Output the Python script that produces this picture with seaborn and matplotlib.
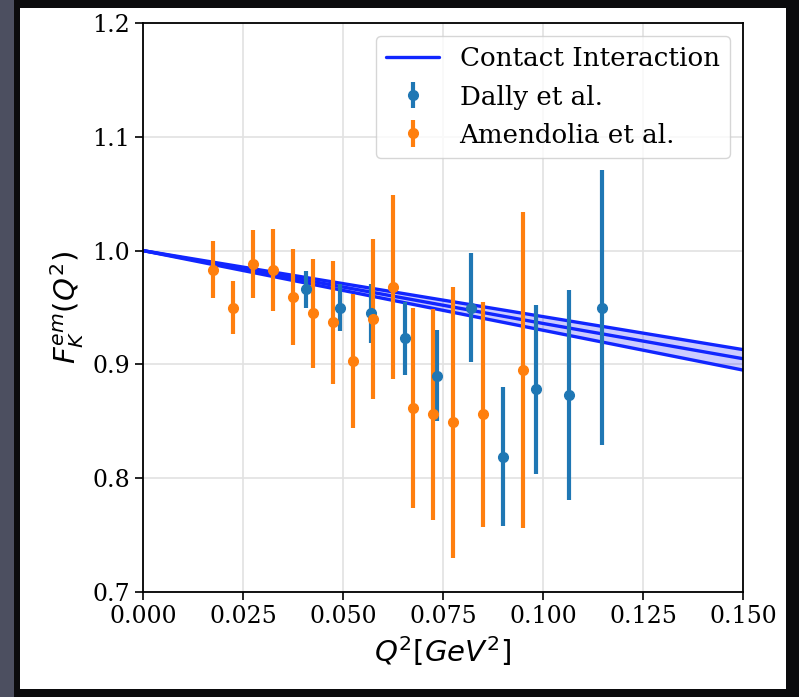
import matplotlib
matplotlib.use('Agg')
import matplotlib.pyplot as plt
import seaborn as sns
import pandas as pd
from matplotlib.patches import Rectangle

# Contact interaction band (upper / central / lower)
ci_q = [0.0, 0.05, 0.10, 0.15]
ci_upper = [1.0, 0.971, 0.942, 0.913]
ci_mid = [1.0, 0.968, 0.936, 0.905]
ci_lower = [1.0, 0.965, 0.930, 0.895]

# Dally et al.
dally_q = [0.0408, 0.0493, 0.0569, 0.0655, 0.0736, 0.0819, 0.0899, 0.0983, 0.1064, 0.1147]
dally_f = [0.966, 0.950, 0.945, 0.923, 0.890, 0.950, 0.819, 0.878, 0.873, 0.950]
dally_err = [0.016, 0.021, 0.026, 0.032, 0.040, 0.048, 0.061, 0.074, 0.092, 0.121]

# Amendolia et al.
amen_q = [0.0174, 0.0225, 0.0275, 0.0325, 0.0375, 0.0425, 0.0475, 0.0524,
          0.0574, 0.0626, 0.0676, 0.0724, 0.0776, 0.0851, 0.0951]
amen_f = [0.983, 0.950, 0.988, 0.983, 0.959, 0.945, 0.937, 0.903,
          0.940, 0.968, 0.862, 0.856, 0.849, 0.856, 0.895]
amen_err = [0.025, 0.023, 0.030, 0.036, 0.042, 0.048, 0.054, 0.059,
            0.070, 0.081, 0.088, 0.093, 0.119, 0.099, 0.139]

sns.set_style('whitegrid')
plt.rcParams['font.family'] = ['DejaVu Serif']
plt.rcParams['mathtext.fontset'] = 'dejavusans'
plt.rcParams['text.color'] = 'black'
plt.rcParams['axes.labelcolor'] = 'black'
plt.rcParams['xtick.color'] = 'black'
plt.rcParams['ytick.color'] = 'black'

fig = plt.figure(figsize=(7.99, 6.97), dpi=100)
fig.patch.set_facecolor('#0b0b0d')
# screenshot frame: grey strip on the left and white canvas
fig.patches.append(Rectangle((0, 0), 14 / 799, 1, transform=fig.transFigure,
                             facecolor='#4c4f60', edgecolor='none', zorder=-2))
fig.patches.append(Rectangle((20 / 799, 8 / 697), 766 / 799, 681 / 697,
                             transform=fig.transFigure, facecolor='white',
                             edgecolor='none', zorder=-1))

ax = fig.add_axes([143 / 799, 1 - 592 / 697, 600 / 799, 569 / 697])

ci = pd.DataFrame({'q': ci_q, 'up': ci_upper, 'mid': ci_mid, 'lo': ci_lower})
sns.lineplot(data=ci, x='q', y='mid', ax=ax, color='#1126ff', lw=2.4, label='Contact Interaction')
sns.lineplot(data=ci, x='q', y='up', ax=ax, color='#1126ff', lw=2.4)
sns.lineplot(data=ci, x='q', y='lo', ax=ax, color='#1126ff', lw=2.4)
ax.fill_between(ci['q'], ci['lo'], ci['up'], color='blue', alpha=0.2, lw=0)

ax.errorbar(dally_q, dally_f, yerr=dally_err, fmt='o', color='#1f77b4',
            ms=7, elinewidth=3, capsize=0, label='Dally et al.')
ax.errorbar(amen_q, amen_f, yerr=amen_err, fmt='o', color='#ff7f0e',
            ms=7, elinewidth=3, capsize=0, label='Amendolia et al.')

ax.set_xlim(0, 0.15)
ax.set_ylim(0.7, 1.2)
ax.set_xticks([0.0, 0.025, 0.05, 0.075, 0.1, 0.125, 0.15])
ax.set_xticklabels(['0.000', '0.025', '0.050', '0.075', '0.100', '0.125', '0.150'])
ax.set_yticks([0.7, 0.8, 0.9, 1.0, 1.1, 1.2])
ax.set_yticklabels(['0.7', '0.8', '0.9', '1.0', '1.1', '1.2'])
ax.tick_params(labelsize=17, length=6, width=1.2, color='black', left=True, bottom=True)
ax.grid(True, color='#e2e2e2', lw=1.2)
for s in ax.spines.values():
    s.set_color('black')
    s.set_linewidth(1.3)

ax.set_xlabel(r'$Q^2[GeV^2]$', fontsize=21)
ax.set_ylabel(r'$F_K^{em}(Q^2)$', fontsize=21)

leg = ax.legend(loc='upper right', fontsize=18.8, frameon=True)

fig.savefig('out.png', dpi=100, facecolor=fig.get_facecolor())
